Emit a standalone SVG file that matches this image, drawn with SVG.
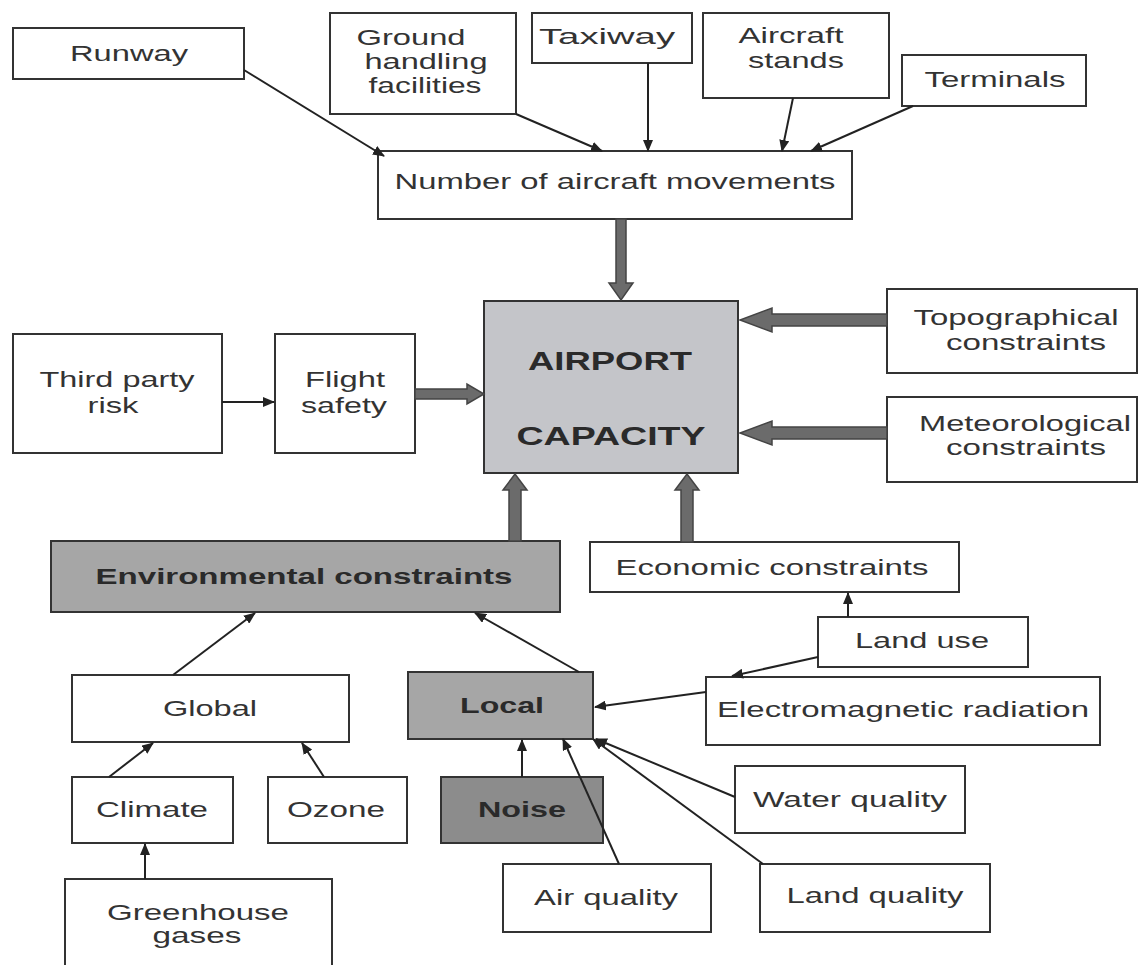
<svg xmlns="http://www.w3.org/2000/svg" width="1139" height="965" viewBox="0 0 1139 965">
<style>
.box{fill:#fff;stroke:#333;stroke-width:2}
.air{fill:#c4c5c9;stroke:#333;stroke-width:2}
.mid{fill:#a6a6a6;stroke:#333;stroke-width:2}
.dark{fill:#8c8c8c;stroke:#333;stroke-width:2}
text{font-family:"Liberation Sans",Arial,sans-serif;font-size:22px;fill:#333;text-anchor:middle}
.b{font-weight:bold;fill:#2a2a2a}
.big{font-size:26px}
.ln{stroke:#222;stroke-width:2;fill:none;marker-end:url(#ah)}
.thick{fill:#6b6b6b;stroke:#444;stroke-width:1.5}
</style>
<defs>
<marker id="ah" viewBox="0 0 12 10" refX="11" refY="5" markerWidth="12" markerHeight="10" markerUnits="userSpaceOnUse" orient="auto">
<path d="M0,0 L12,5 L0,10 z" fill="#222"/>
</marker>
</defs>
<rect width="1139" height="965" fill="#fff"/>
<g id="runway"><rect class="box" x="13" y="28" width="231" height="51"/><text x="129" y="61" textLength="118" lengthAdjust="spacingAndGlyphs">Runway</text></g>
<g id="ground"><rect class="box" x="330" y="13" width="186" height="101"/>
<text x="411" y="45" textLength="109" lengthAdjust="spacingAndGlyphs">Ground</text>
<text x="426" y="69" textLength="123" lengthAdjust="spacingAndGlyphs">handling</text>
<text x="425" y="93" textLength="113" lengthAdjust="spacingAndGlyphs">facilities</text></g>
<g id="taxiway"><rect class="box" x="532" y="13" width="160" height="50"/><text x="607" y="44" textLength="136" lengthAdjust="spacingAndGlyphs">Taxiway</text></g>
<g id="stands"><rect class="box" x="703" y="13" width="186" height="85"/>
<text x="791" y="43" textLength="105" lengthAdjust="spacingAndGlyphs">Aircraft</text>
<text x="796" y="68" textLength="96" lengthAdjust="spacingAndGlyphs">stands</text></g>
<g id="terminals"><rect class="box" x="902" y="55" width="184" height="51"/><text x="995" y="87" textLength="141" lengthAdjust="spacingAndGlyphs">Terminals</text></g>
<g id="movements"><rect class="box" x="378" y="151" width="474" height="68"/><text x="615" y="189" textLength="441" lengthAdjust="spacingAndGlyphs">Number of aircraft movements</text></g>
<g id="airport"><rect class="air" x="484" y="301" width="254" height="172"/>
<text class="b big" x="610" y="370" textLength="164" lengthAdjust="spacingAndGlyphs">AIRPORT</text>
<text class="b big" x="611" y="445" textLength="189" lengthAdjust="spacingAndGlyphs">CAPACITY</text></g>
<g id="third"><rect class="box" x="13" y="334" width="209" height="119"/>
<text x="117" y="387" textLength="155" lengthAdjust="spacingAndGlyphs">Third party</text>
<text x="113" y="413" textLength="51" lengthAdjust="spacingAndGlyphs">risk</text></g>
<g id="flight"><rect class="box" x="275" y="334" width="140" height="119"/>
<text x="345" y="387" textLength="80" lengthAdjust="spacingAndGlyphs">Flight</text>
<text x="344" y="413" textLength="86" lengthAdjust="spacingAndGlyphs">safety</text></g>
<g id="topo"><rect class="box" x="887" y="289" width="250" height="84"/>
<text x="1016" y="325" textLength="205" lengthAdjust="spacingAndGlyphs">Topographical</text>
<text x="1026" y="350" textLength="160" lengthAdjust="spacingAndGlyphs">constraints</text></g>
<g id="meteo"><rect class="box" x="887" y="397" width="250" height="85"/>
<text x="1025" y="431" textLength="212" lengthAdjust="spacingAndGlyphs">Meteorological</text>
<text x="1026" y="455" textLength="160" lengthAdjust="spacingAndGlyphs">constraints</text></g>
<g id="env"><rect class="mid" x="51" y="541" width="509" height="71"/><text class="b" x="304" y="584" textLength="417" lengthAdjust="spacingAndGlyphs">Environmental constraints</text></g>
<g id="econ"><rect class="box" x="590" y="542" width="369" height="50"/><text x="772" y="575" textLength="313" lengthAdjust="spacingAndGlyphs">Economic constraints</text></g>
<g id="landuse"><rect class="box" x="818" y="617" width="210" height="50"/><text x="922" y="648" textLength="134" lengthAdjust="spacingAndGlyphs">Land use</text></g>
<g id="global"><rect class="box" x="72" y="675" width="277" height="67"/><text x="210" y="716" textLength="94" lengthAdjust="spacingAndGlyphs">Global</text></g>
<g id="local"><rect class="mid" x="408" y="672" width="185" height="67"/><text class="b" x="502" y="713" textLength="84" lengthAdjust="spacingAndGlyphs">Local</text></g>
<g id="em"><rect class="box" x="706" y="677" width="394" height="68"/><text x="903" y="717" textLength="372" lengthAdjust="spacingAndGlyphs">Electromagnetic radiation</text></g>
<g id="climate"><rect class="box" x="72" y="777" width="161" height="66"/><text x="152" y="817" textLength="112" lengthAdjust="spacingAndGlyphs">Climate</text></g>
<g id="ozone"><rect class="box" x="268" y="777" width="139" height="66"/><text x="336" y="817" textLength="98" lengthAdjust="spacingAndGlyphs">Ozone</text></g>
<g id="noise"><rect class="dark" x="441" y="777" width="162" height="66"/><text class="b" x="522" y="817" textLength="88" lengthAdjust="spacingAndGlyphs">Noise</text></g>
<g id="water"><rect class="box" x="735" y="766" width="230" height="67"/><text x="850" y="807" textLength="194" lengthAdjust="spacingAndGlyphs">Water quality</text></g>
<g id="greenhouse"><rect class="box" x="65" y="879" width="267" height="100"/>
<text x="198" y="920" textLength="182" lengthAdjust="spacingAndGlyphs">Greenhouse</text>
<text x="197" y="943" textLength="89" lengthAdjust="spacingAndGlyphs">gases</text></g>
<g id="airq"><rect class="box" x="503" y="864" width="208" height="68"/><text x="606" y="905" textLength="144" lengthAdjust="spacingAndGlyphs">Air quality</text></g>
<g id="landq"><rect class="box" x="760" y="864" width="230" height="68"/><text x="875" y="903" textLength="177" lengthAdjust="spacingAndGlyphs">Land quality</text></g>
<g id="connectors">
<line class="ln" x1="244" y1="70" x2="384" y2="156"/>
<line class="ln" x1="516" y1="114" x2="602" y2="151"/>
<line class="ln" x1="648" y1="63" x2="648" y2="151"/>
<line class="ln" x1="793" y1="98" x2="782" y2="151"/>
<line class="ln" x1="913" y1="106" x2="811" y2="151"/>
<line class="ln" x1="222" y1="402" x2="274" y2="402"/>
<line class="ln" x1="173" y1="675" x2="255" y2="613"/>
<line class="ln" x1="579" y1="672" x2="475" y2="613"/>
<line class="ln" x1="109" y1="777" x2="153" y2="743"/>
<line class="ln" x1="324" y1="777" x2="302" y2="743"/>
<line class="ln" x1="145" y1="879" x2="145" y2="844"/>
<line class="ln" x1="522" y1="777" x2="522" y2="740"/>
<line class="ln" x1="619" y1="864" x2="563" y2="739"/>
<line class="ln" x1="735" y1="797" x2="596" y2="739"/>
<line class="ln" x1="763" y1="864" x2="593" y2="739"/>
<line class="ln" x1="706" y1="692" x2="595" y2="707"/>
<line class="ln" x1="818" y1="657" x2="732" y2="676"/>
<line class="ln" x1="848" y1="617" x2="848" y2="593"/>
<polygon class="thick" points="616,219 626,219 626,283 633,283 621,300 609,283 616,283"/>
<polygon class="thick" points="887,314 772,314 772,308 740,320 772,332 772,326 887,326"/>
<polygon class="thick" points="887,427 772,427 772,421 740,433 772,445 772,439 887,439"/>
<polygon class="thick" points="415,389 467,389 467,384 484,394 467,404 467,399 415,399"/>
<polygon class="thick" points="509,541 509,490 503,490 515,474 527,490 521,490 521,541"/>
<polygon class="thick" points="681,542 681,490 675,490 687,474 699,490 693,490 693,542"/>
</g>
</svg>
